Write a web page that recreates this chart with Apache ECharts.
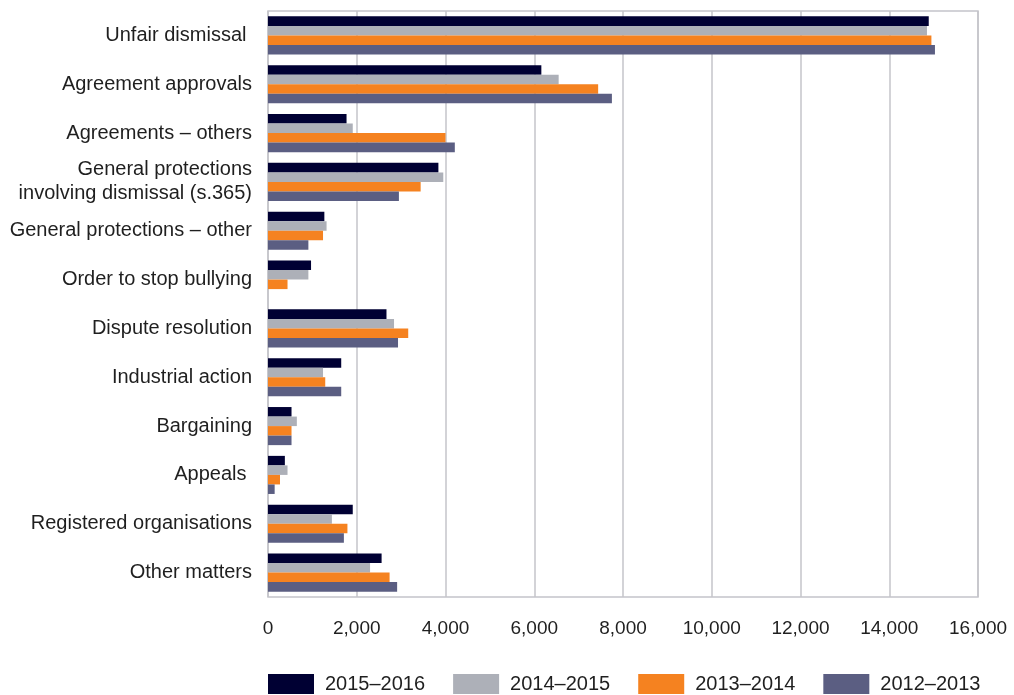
<!DOCTYPE html>
<html>
<head>
<meta charset="utf-8">
<title>Lodgments by matter type</title>
<script src="https://cdn.jsdelivr.net/npm/echarts@6/dist/echarts.min.js"></script>
<style>
  html, body { margin: 0; padding: 0; background: #ffffff; }
  #chart { width: 1014px; height: 695px; }
</style>
</head>
<body>
<div id="chart"></div>
<script>
// Matter types, top to bottom
const categories = [
  'Unfair dismissal ',
  'Agreement approvals',
  'Agreements \u2013 others',
  'General protections\ninvolving dismissal (s.365)',
  'General protections \u2013 other',
  'Order to stop bullying',
  'Dispute resolution',
  'Industrial action',
  'Bargaining',
  'Appeals ',
  'Registered organisations',
  'Other matters'
];

const seriesNames = ['2015\u20132016', '2014\u20132015', '2013\u20132014', '2012\u20132013'];

// Lodgments per financial year
const fy2015_16 = [14890, 6160, 1770, 3840, 1270, 970, 2670, 1650, 530, 380, 1910, 2560];
const fy2014_15 = [14850, 6550, 1910, 3950, 1320, 910, 2840, 1240, 650, 440, 1440, 2300];
const fy2013_14 = [14950, 7440, 4000, 3440, 1240, 440, 3160, 1290, 530, 270, 1790, 2740];
const fy2012_13 = [15030, 7750, 4210, 2950, 910, 0, 2930, 1650, 530, 150, 1710, 2910];

const xTicks = [0, 2000, 4000, 6000, 8000, 10000, 12000, 14000, 16000];

const colors = ['#000033', '#adb0b8', '#f58220', '#5b5e82'];
const values = [fy2015_16, fy2014_15, fy2013_14, fy2012_13];

const textColor = '#1f1f1f';
const fontFamily = '"Liberation Sans", Arial, Helvetica, sans-serif';

const chart = echarts.init(document.getElementById('chart'), null, { renderer: 'canvas' });

chart.setOption({
  animation: false,
  color: colors,
  textStyle: { fontFamily: fontFamily, color: textColor },
  grid: {
    left: 268, right: 36, top: 11, bottom: 98,
    show: true, borderColor: '#c4c4ca', borderWidth: 1.5,
    containLabel: false
  },
  legend: {
    data: seriesNames,
    left: 268, top: 674,
    padding: 0,
    itemWidth: 46, itemHeight: 20,
    itemGap: 28,
    icon: 'rect',
    textStyle: { fontSize: 20, color: textColor, fontFamily: fontFamily, padding: [0, 0, 0, 6] }
  },
  xAxis: {
    type: 'value',
    min: xTicks[0],
    max: xTicks[xTicks.length - 1],
    interval: 2000,
    axisLine: { show: false },
    axisTick: { show: false },
    splitLine: { show: true, lineStyle: { color: '#c4c4ca', width: 1.5 } },
    axisLabel: {
      margin: 22,
      fontSize: 19,
      color: textColor,
      fontFamily: fontFamily,
      formatter: v => v.toLocaleString('en-US')
    }
  },
  yAxis: {
    type: 'category',
    data: categories,
    inverse: true,
    axisLine: { show: false },
    axisTick: { show: false },
    splitLine: { show: false },
    axisLabel: {
      margin: 16,
      fontSize: 20,
      lineHeight: 24,
      color: textColor,
      fontFamily: fontFamily,
      align: 'right'
    }
  },
  series: seriesNames.map((name, i) => ({
    name: name,
    type: 'bar',
    data: values[i],
    barGap: '0%',
    barCategoryGap: '22%',
    itemStyle: { color: colors[i] }
  }))
});
</script>
</body>
</html>
